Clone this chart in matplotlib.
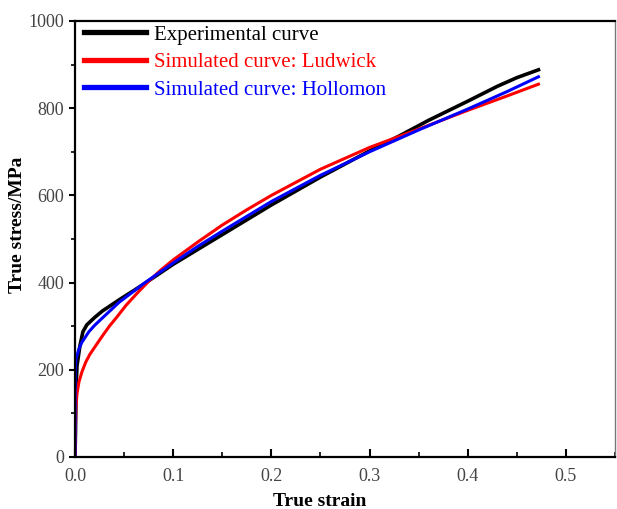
import matplotlib
matplotlib.use("Agg")
from matplotlib import pyplot as plt
from matplotlib.ticker import MultipleLocator

# values
exp_strain = [0, 0.0005, 0.001, 0.002, 0.005, 0.008, 0.012, 0.02, 0.028, 0.046,
              0.06, 0.073, 0.1, 0.15, 0.2, 0.25, 0.3, 0.33, 0.36, 0.4, 0.43, 0.45, 0.472]
exp_stress = [0, 60, 155, 209, 255, 287, 303, 320, 335, 362,
              382, 401, 442, 510, 578, 642, 702, 736, 772, 816, 850, 870, 888]

lud_strain = [0, 0.0003, 0.001, 0.002, 0.004, 0.007, 0.011, 0.015, 0.021, 0.028,
              0.035, 0.043, 0.052, 0.063, 0.075, 0.087, 0.1, 0.125, 0.15, 0.175,
              0.2, 0.25, 0.3, 0.35, 0.4, 0.44, 0.472]
lud_stress = [0, 60, 117, 145, 172, 195, 218, 235, 255, 278,
              300, 322, 348, 375, 403, 428, 452, 493, 532, 567,
              600, 660, 710, 752, 795, 828, 855]

hol_strain = [0, 0.0002, 0.001, 0.004, 0.007, 0.014, 0.02, 0.027, 0.045, 0.072,
              0.1, 0.125, 0.15, 0.2, 0.25, 0.3, 0.35, 0.4, 0.44, 0.472]
hol_stress = [0, 195, 225, 248, 263, 287, 302, 317, 355, 401,
              445, 483, 518, 586, 646, 700, 750, 798, 838, 872]

labels = ["Experimental curve", "Simulated curve: Ludwick", "Simulated curve: Hollomon"]
colors = ["black", "#ff0000", "#0000ff"]

plt.rcParams['font.family'] = ['Liberation Serif', 'DejaVu Serif']

fig = plt.figure(figsize=(6.17, 5.09), dpi=100)
ax = fig.add_axes([0.1216, 0.1022, 0.8752, 0.8566])

ax.plot(exp_strain, exp_stress, color=colors[0], linewidth=2.6, label=labels[0])
ax.plot(lud_strain, lud_stress, color=colors[1], linewidth=2.2, label=labels[1])
ax.plot(hol_strain, hol_stress, color=colors[2], linewidth=2.2, label=labels[2])

ax.set_xlim(0, 0.55)
ax.set_ylim(0, 1000)
ax.xaxis.set_minor_locator(MultipleLocator(0.05))
ax.yaxis.set_major_locator(MultipleLocator(200))
ax.yaxis.set_minor_locator(MultipleLocator(100))
ax.set_xticks([0, 0.1, 0.2, 0.3, 0.4, 0.5])
ax.set_xticklabels(["0.0", "0.1", "0.2", "0.3", "0.4", "0.5"])

ax.tick_params(axis='x', which='major', direction='in', length=5.5, width=1.5,
               labelsize=13, labelcolor='#444444', pad=8)
ax.tick_params(axis='x', which='minor', direction='in', length=3.5, width=1.2)
ax.tick_params(axis='y', which='major', direction='out', length=4, width=1.5,
               labelsize=13, labelcolor='#444444', pad=4)
ax.tick_params(axis='y', which='minor', direction='out', length=3, width=1.2)

for side in ['left', 'bottom', 'top']:
    ax.spines[side].set_linewidth(1.6)
    ax.spines[side].set_color('black')
ax.spines['right'].set_linewidth(1.0)
ax.spines['right'].set_color('#777777')

ax.set_xlabel("True strain", fontsize=14, fontweight='bold', va='center')
ax.set_ylabel("True stress/MPa", fontsize=14, fontweight='bold', va='center')
ax.xaxis.set_label_coords(0.454, -0.101)
ax.yaxis.set_label_coords(-0.106, 0.532)

leg = ax.legend(loc='upper left', bbox_to_anchor=(0.008, 1.0), frameon=False,
                fontsize=15, handlelength=3.0, handletextpad=0.4,
                labelspacing=0.38, borderaxespad=0.0, borderpad=0.2)
for line in leg.get_lines():
    line.set_linewidth(3.8)
for text, c in zip(leg.get_texts(), colors):
    text.set_color(c)

fig.savefig("out.png", dpi=100)
